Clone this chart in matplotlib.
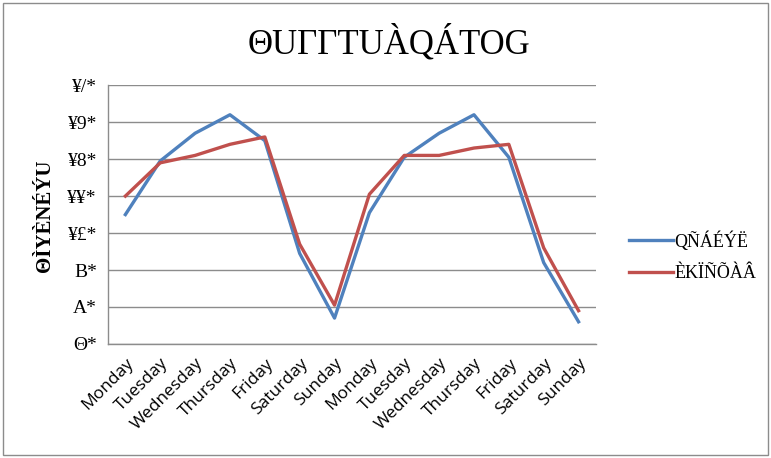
import matplotlib
matplotlib.use("Agg")
import matplotlib.pyplot as plt
from matplotlib.patches import Rectangle

# Data (gridline units, 20 per line)
days = ['Monday', 'Tuesday', 'Wednesday', 'Thursday', 'Friday', 'Saturday', 'Sunday',
        'Monday', 'Tuesday', 'Wednesday', 'Thursday', 'Friday', 'Saturday', 'Sunday']
series_blue = [70, 99, 114, 124, 110, 49, 14, 71, 101, 114, 124, 101, 44, 12]
series_red = [80, 98, 102, 108, 112, 54, 21, 81, 102, 102, 106, 108, 52, 18]

ytick_values = [0, 20, 40, 60, 80, 100, 120, 140]
ytick_labels = ['Θ*', 'A*', 'B*', '¥£*', '¥¥*', '¥8*', '¥9*', '¥/*']

title_text = 'ΘUΓΓTUÀQÁTOG'
ylabel_text = 'ΘÌYÈNÉÝU'
legend_labels = ['QÑÁÉÝË', 'ÈKÏÑÕÀÂ']

serif = ['Liberation Serif', 'DejaVu Serif']

fig = plt.figure(figsize=(7.71, 4.58), dpi=100)
ax = fig.add_axes([0.140, 0.249, 0.633, 0.565])

x = list(range(len(days)))
ax.plot(x, series_blue, color='#4F81BD', linewidth=2.4, label=legend_labels[0])
ax.plot(x, series_red, color='#C0504D', linewidth=2.4, label=legend_labels[1])

ax.set_xlim(-0.5, len(days) - 0.5)
ax.set_ylim(0, 140)
ax.set_yticks(ytick_values)
ax.set_yticklabels(ytick_labels, fontsize=14, family=serif)
ax.set_xticks(x)
ax.set_xticklabels(days, rotation=45, ha='right', rotation_mode='anchor',
                   fontsize=12.5, family=['Open Sans', 'DejaVu Sans'])
ax.tick_params(length=0, pad=8)
ax.tick_params(axis='x', pad=8)

ax.grid(axis='y', color='#8C8C8C', linewidth=1.0)
ax.set_axisbelow(True)
for side in ['top', 'right']:
    ax.spines[side].set_visible(False)
for side in ['left', 'bottom']:
    ax.spines[side].set_color('#8C8C8C')
    ax.spines[side].set_linewidth(1.0)

fig.text(0.505, 0.905, title_text, ha='center', va='center', fontsize=25,
         family=serif)
fig.text(0.058, 0.53, ylabel_text, ha='center', va='center', rotation=90,
         fontsize=15, fontweight='bold', family=serif)

fig.legend(loc='center left', bbox_to_anchor=(0.795, 0.44), frameon=False,
           prop={'family': serif, 'size': 13}, handlelength=2.4,
           labelspacing=0.8, handletextpad=0.1)

# outer chart border
fig.patches.append(Rectangle((0.004, 0.007), 0.992, 0.986, transform=fig.transFigure,
                             fill=False, edgecolor='#8C8C8C', linewidth=1.0))

fig.savefig('out.png', dpi=100)
